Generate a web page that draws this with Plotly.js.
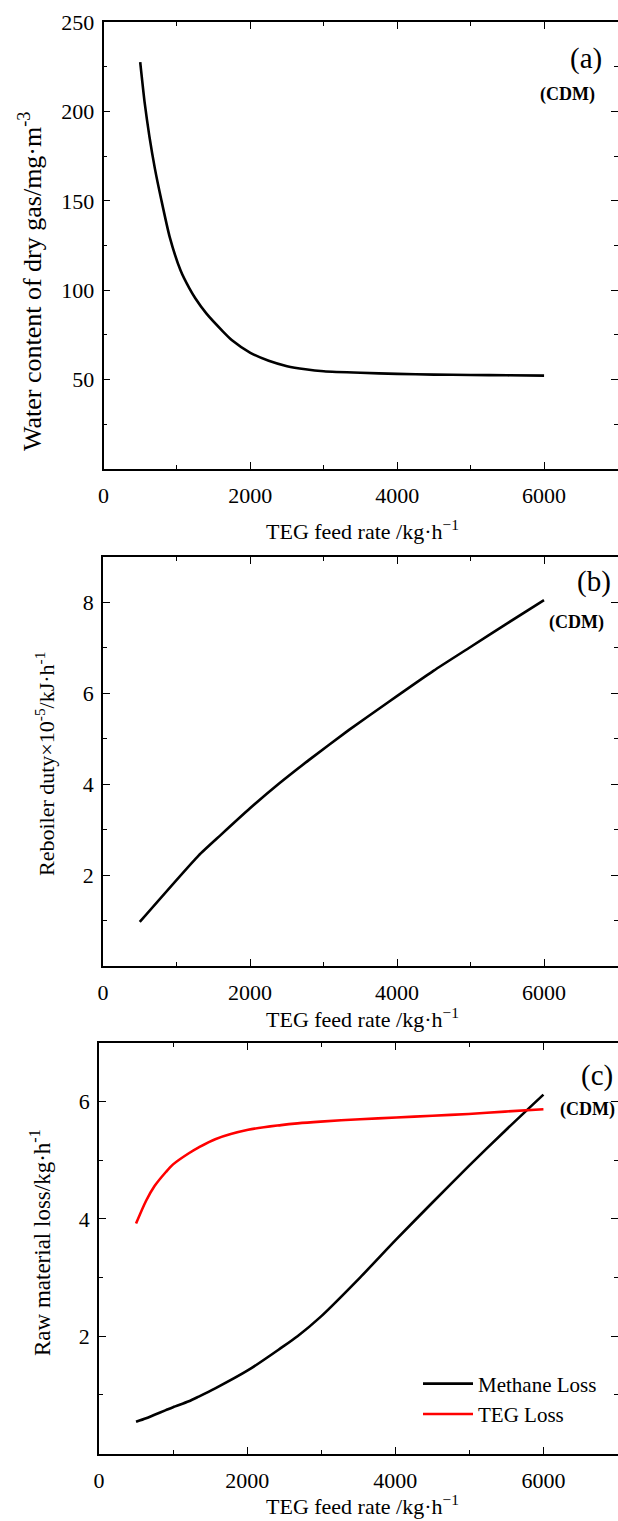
<!DOCTYPE html>
<html>
<head>
<meta charset="utf-8">
<script src="https://cdn.plot.ly/plotly-3.0.1.min.js"></script>
</head>
<body style="margin:0">
<div id="chart"></div>
<script>
// ---- data ----
const feedA = [500, 560, 625, 700, 785, 900, 1050, 1170, 1250, 1400, 1625, 1750, 2000, 2250, 2500, 2750, 3000, 3500, 4000, 4500, 5000, 5500, 6000];
const waterA = [227.5, 205, 186, 168, 151, 130, 111, 101, 95.5, 87, 77, 72, 65, 60.5, 57.5, 55.8, 54.7, 53.8, 53.2, 52.8, 52.6, 52.4, 52.2];

const feedB = [500, 1300, 1600, 2000, 2400, 2800, 3343, 3885, 4500, 5000, 5500, 6000];
const dutyB = [0.97, 2.43, 2.88, 3.47, 4.02, 4.53, 5.19, 5.81, 6.5, 7.02, 7.54, 8.05];

const feedC = [500, 636, 750, 903, 1000, 1213, 1347, 1569, 2013, 2458, 2680, 2991, 3524, 4013, 4502, 4991, 5480, 6000];
const methaneC = [0.54, 0.6, 0.66, 0.74, 0.79, 0.89, 0.97, 1.11, 1.42, 1.8, 2.0, 2.33, 3.0, 3.65, 4.28, 4.9, 5.5, 6.12];
const tegC = [3.92, 4.31, 4.56, 4.8, 4.93, 5.12, 5.22, 5.36, 5.52, 5.6, 5.63, 5.66, 5.7, 5.73, 5.76, 5.79, 5.83, 5.87];

const xTitle = 'TEG feed rate /kg·h<sup>−1</sup>';
const yTitles = ['Water content of dry gas/mg·m<sup>-3</sup>', 'Reboiler duty×10<sup>-5</sup>/kJ·h<sup>-1</sup>', 'Raw material loss/kg·h<sup>-1</sup>'];
const panelLabels = ['(a)', '(b)', '(c)'];
const noteLabel = '<b>(CDM)</b>';
const seriesNames = ['Methane Loss', 'TEG Loss'];

// ---- layout helpers ----
const W = 618, H = 1521;
const FONT = 'Liberation Serif';
const px = v => v / W;
const py = v => 1 - v / H;

const traces = [
  {x: feedA, y: waterA, xaxis: 'x', yaxis: 'y', mode: 'lines', line: {color: '#000', width: 2.6, shape: 'spline', smoothing: 0.6}, showlegend: false},
  {x: feedB, y: dutyB, xaxis: 'x2', yaxis: 'y2', mode: 'lines', line: {color: '#000', width: 2.6, shape: 'spline', smoothing: 0.5}, showlegend: false},
  {x: feedC, y: methaneC, xaxis: 'x3', yaxis: 'y3', mode: 'lines', name: seriesNames[0], line: {color: '#000', width: 2.6, shape: 'spline', smoothing: 0.8}},
  {x: feedC, y: tegC, xaxis: 'x3', yaxis: 'y3', mode: 'lines', name: seriesNames[1], line: {color: '#ff0000', width: 2.6, shape: 'spline', smoothing: 0.8}}
];

function xAxis(left, anchor) {
  return {
    domain: [px(left), px(617.5)], anchor: anchor, range: [0, 7000],
    tickmode: 'array', tickvals: [0, 2000, 4000, 6000],
    ticks: 'inside', ticklen: 7, tickwidth: 1.3, tickcolor: '#000',
    minor: {tickvals: [1000, 3000, 5000], ticks: 'inside', ticklen: 4, tickwidth: 1.3, tickcolor: '#000'},
    showline: true, linecolor: '#000', linewidth: 1.6, mirror: 'ticks',
    showgrid: false, zeroline: false, ticklabelstandoff: 6,
    tickfont: {family: FONT, size: 22, color: '#000'}, fixedrange: true
  };
}
function yAxis(top, bottom, anchor, range, major, minor) {
  return {
    domain: [py(bottom), py(top)], anchor: anchor, range: range,
    tickmode: 'array', tickvals: major,
    ticks: 'inside', ticklen: 7, tickwidth: 1.3, tickcolor: '#000',
    minor: {tickvals: minor, ticks: 'inside', ticklen: 4, tickwidth: 1.3, tickcolor: '#000'},
    showline: true, linecolor: '#000', linewidth: 1.6, mirror: 'ticks',
    showgrid: false, zeroline: false, ticklabelstandoff: 3,
    tickfont: {family: FONT, size: 22, color: '#000'}, fixedrange: true
  };
}

const annotations = [];
function txt(x, y, text, size, angle) {
  annotations.push({xref: 'paper', yref: 'paper', x: px(x), y: py(y), text: text, showarrow: false,
    textangle: angle || 0, xanchor: 'center', yanchor: 'middle',
    font: {family: FONT, size: size, color: '#000'}});
}
// axis titles
txt(362, 530, xTitle, 22);
txt(362, 1018, xTitle, 22);
txt(362, 1505, xTitle, 22);
txt(30, 282, yTitles[0], 26, -90);
txt(45, 764, yTitles[1], 22, -90);
txt(40, 1243, yTitles[2], 23, -90);
// panel labels
txt(586, 58, panelLabels[0], 29);
txt(567, 94, noteLabel, 18);
txt(594, 581, panelLabels[1], 29);
txt(576, 622, noteLabel, 18);
txt(597, 1075, panelLabels[2], 29);
txt(587, 1109, noteLabel, 18);

const layout = {
  width: W, height: H, margin: {l: 0, r: 0, t: 0, b: 0},
  paper_bgcolor: '#fff', plot_bgcolor: '#fff',
  xaxis: xAxis(103.5, 'y'),
  yaxis: yAxis(22, 469, 'x', [0, 250], [50, 100, 150, 200, 250], [25, 75, 125, 175, 225]),
  xaxis2: xAxis(103, 'y2'),
  yaxis2: yAxis(557, 966, 'x2', [0, 9], [2, 4, 6, 8], [1, 3, 5, 7]),
  xaxis3: xAxis(99, 'y3'),
  yaxis3: yAxis(1043, 1453.5, 'x3', [0, 7], [2, 4, 6], [1, 3, 5]),
  showlegend: true,
  legend: {x: px(418), y: py(1399), xanchor: 'left', yanchor: 'middle', bgcolor: 'rgba(0,0,0,0)',
    font: {family: FONT, size: 21, color: '#000'}, tracegroupgap: 0, itemwidth: 50},
  annotations: annotations
};

Plotly.newPlot('chart', traces, layout, {displayModeBar: false});
</script>
</body>
</html>
